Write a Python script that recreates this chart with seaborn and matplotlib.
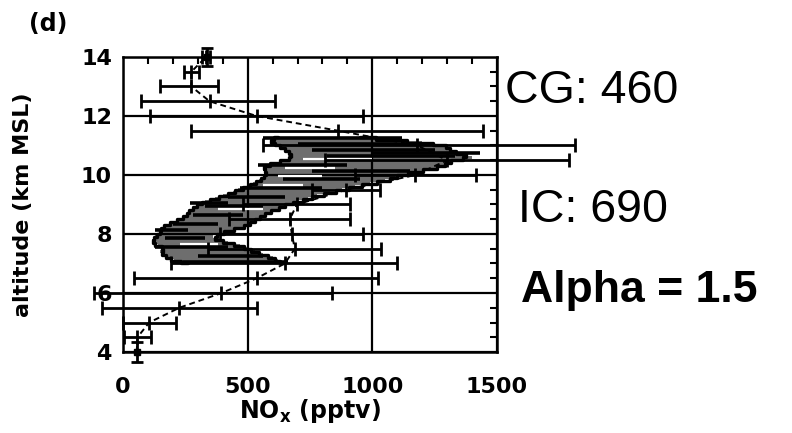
import numpy as np
import pandas as pd
import matplotlib
matplotlib.use("Agg")
import matplotlib.pyplot as plt
import seaborn as sns

# Observed NOx profile: altitude levels, mean and range of the bars
alt_levels = [4.5, 5.0, 5.5, 6.0, 6.5, 7.0, 7.5, 8.0, 8.5, 9.0, 9.5,
              10.0, 10.5, 11.0, 11.5, 12.0, 12.5, 13.0, 13.5, 14.0]
nox_mean = [58, 105, 226, 395, 536, 649, 689, 677, 669, 697, 895,
            1173, 1300, 1181, 863, 536, 347, 274, 274, 333]
nox_low = [4, 2, -84, -117, 44, 193, 342, 391, 427, 483, 758,
           931, 810, 560, 274, 109, 73, 149, 246, 318]
nox_high = [113, 214, 536, 838, 1024, 1100, 1036, 963, 911, 911, 1032,
            1415, 1790, 1814, 1443, 963, 609, 383, 306, 347]

# End points of the profile with their altitude spread
end_alt = [4.0, 14.0]
end_nox = [55, 335]
end_alt_err = [0.35, 0.3]

# Model envelope (min / max) at 0.1 km resolution
env_alt = [7.0, 7.1, 7.2, 7.3, 7.4, 7.5, 7.6, 7.7, 7.8, 7.9, 8.0, 8.1, 8.2,
           8.3, 8.4, 8.5, 8.6, 8.7, 8.8, 8.9, 9.0, 9.1, 9.2, 9.3, 9.4, 9.5,
           9.6, 9.7, 9.8, 9.9, 10.0, 10.1, 10.2, 10.3, 10.4, 10.5, 10.6,
           10.7, 10.8, 10.9, 11.0, 11.1, 11.2, 11.3]
env_min = [260, 205, 180, 165, 150, 170, 140, 118, 120, 130, 145, 150, 155,
           175, 200, 230, 250, 262, 270, 290, 300, 330, 370, 400, 440, 460,
           500, 520, 545, 560, 570, 580, 560, 570, 610, 650, 680,
           670, 660, 640, 620, 600, 590, 620]
env_max = [640, 620, 600, 560, 530, 500, 470, 420, 380, 360, 390, 420, 470,
           500, 520, 540, 560, 580, 610, 640, 660, 700, 740, 780, 830, 880,
           930, 990, 1050, 1090, 1110, 1180, 1230, 1285, 1300, 1330, 1400,
           1350, 1320, 1300, 1290, 1200, 1080, 950]

# Dark and light streaks inside the envelope
dark_alt = [11.25, 11.05, 10.85, 10.75, 10.65, 10.35, 10.15, 9.85, 9.55,
            9.25, 9.05, 8.95, 8.65, 8.35, 8.15, 7.85, 7.55, 7.25, 7.05]
dark_x0 = [560, 700, 760, 1000, 820, 540, 760, 640, 470, 420, 270, 330, 280,
           200, 130, 170, 130, 300, 240]
dark_x1 = [1120, 1150, 1250, 1430, 1330, 900, 1150, 950, 800, 650, 420, 560,
           480, 380, 260, 330, 420, 560, 660]
light_alt = [10.55, 10.25, 9.65, 8.85, 7.65, 9.95]
light_x0 = [720, 650, 560, 380, 230, 620]
light_x1 = [1000, 850, 720, 560, 380, 800]

x_ticks = [0, 500, 1000, 1500]
y_ticks = [4, 6, 8, 10, 12, 14]

sns.set_style("white")
plt.rcParams["font.family"] = ["DejaVu Sans"]
plt.rcParams["text.color"] = "black"
plt.rcParams["axes.labelcolor"] = "black"
plt.rcParams["xtick.color"] = "black"
plt.rcParams["ytick.color"] = "black"

fig = plt.figure(figsize=(7.92, 4.33), dpi=100)
ax = fig.add_axes([123 / 792, 1 - 352 / 433, 374 / 792, 295 / 433])

# Envelope: gray fill with black outlines
ax.fill_betweenx(env_alt, env_min, env_max, step="mid", color="#6e6e6e",
                 lw=0, zorder=2)
ax.step(env_min, env_alt, where="mid", color="black", lw=2.4, zorder=3)
ax.step(env_max, env_alt, where="mid", color="black", lw=2.4, zorder=3)
ax.hlines(dark_alt, dark_x0, dark_x1, color="black", lw=2.6, zorder=3)
ax.hlines(light_alt, light_x0, light_x1, color="white", lw=1.6, zorder=3)

# Mean profile as a dashed line
prof = pd.DataFrame({"alt": end_alt[:1] + alt_levels,
                     "nox": end_nox[:1] + nox_mean})
sns.lineplot(data=prof, x="nox", y="alt", sort=False, estimator=None,
             color="black", lw=1.4, dashes=False, ax=ax, zorder=4)
ax.lines[-1].set_linestyle((0, (3, 2)))

# Horizontal bars with caps (drawn past the frame)
xerr = [np.subtract(nox_mean, nox_low), np.subtract(nox_high, nox_mean)]
eb = ax.errorbar(nox_mean, alt_levels, xerr=xerr, fmt="|", ms=10, mew=2,
                 color="black", ecolor="black", elinewidth=2, capsize=5,
                 capthick=2, zorder=5)
for art in eb.lines[1] + eb.lines[2]:
    art.set_clip_on(False)
eb.lines[0].set_clip_on(False)

eb2 = ax.errorbar(end_nox, end_alt, yerr=end_alt_err, fmt="s", ms=4,
                  color="black", elinewidth=2, capsize=4, capthick=2, zorder=5)
for art in eb2.lines[1] + eb2.lines[2]:
    art.set_clip_on(False)
eb2.lines[0].set_clip_on(False)

ax.set_xlim(0, 1500)
ax.set_ylim(4, 14)
ax.set_xticks(x_ticks)
ax.set_yticks(y_ticks)
ax.set_xticks(np.arange(0, 1501, 100), minor=True)
ax.set_yticks(np.arange(4, 14.01, 0.5), minor=True)
ax.grid(True, which="major", color="black", lw=1.6)
ax.set_axisbelow(False)
for sp in ax.spines.values():
    sp.set_visible(True)
    sp.set_color("black")
    sp.set_linewidth(1.8)
ax.tick_params(which="both", direction="in", top=True, right=True,
               color="black", width=1.5)
ax.tick_params(which="minor", length=5)
ax.tick_params(which="major", length=0)
ax.tick_params(axis="x", which="major", pad=18, labelsize=16)
ax.tick_params(axis="y", which="major", pad=8, labelsize=16)
for lab in ax.get_xticklabels() + ax.get_yticklabels():
    lab.set_fontweight("bold")

ax.set_xlabel(r"NO$_\mathbf{x}$ (pptv)", fontsize=17, fontweight="bold",
              labelpad=0)
ax.set_ylabel("altitude (km MSL)", fontsize=16, fontweight="bold")
ax.yaxis.set_label_coords(-0.24, 0.5)

fig.text(48 / 792, 1 - 24 / 433, "(d)", fontsize=17, fontweight="bold",
         ha="center", va="center")
fig.text(505 / 792, 1 - 103 / 433, "CG: 460", fontsize=33.5,
         family="Liberation Sans", ha="left", va="baseline")
fig.text(518 / 792, 1 - 222 / 433, "IC: 690", fontsize=33.5,
         family="Liberation Sans", ha="left", va="baseline")
fig.text(521 / 792, 1 - 302 / 433, "Alpha = 1.5", fontsize=32,
         family="Liberation Sans", fontweight="bold", ha="left",
         va="baseline")

fig.savefig("out.png", dpi=100)
